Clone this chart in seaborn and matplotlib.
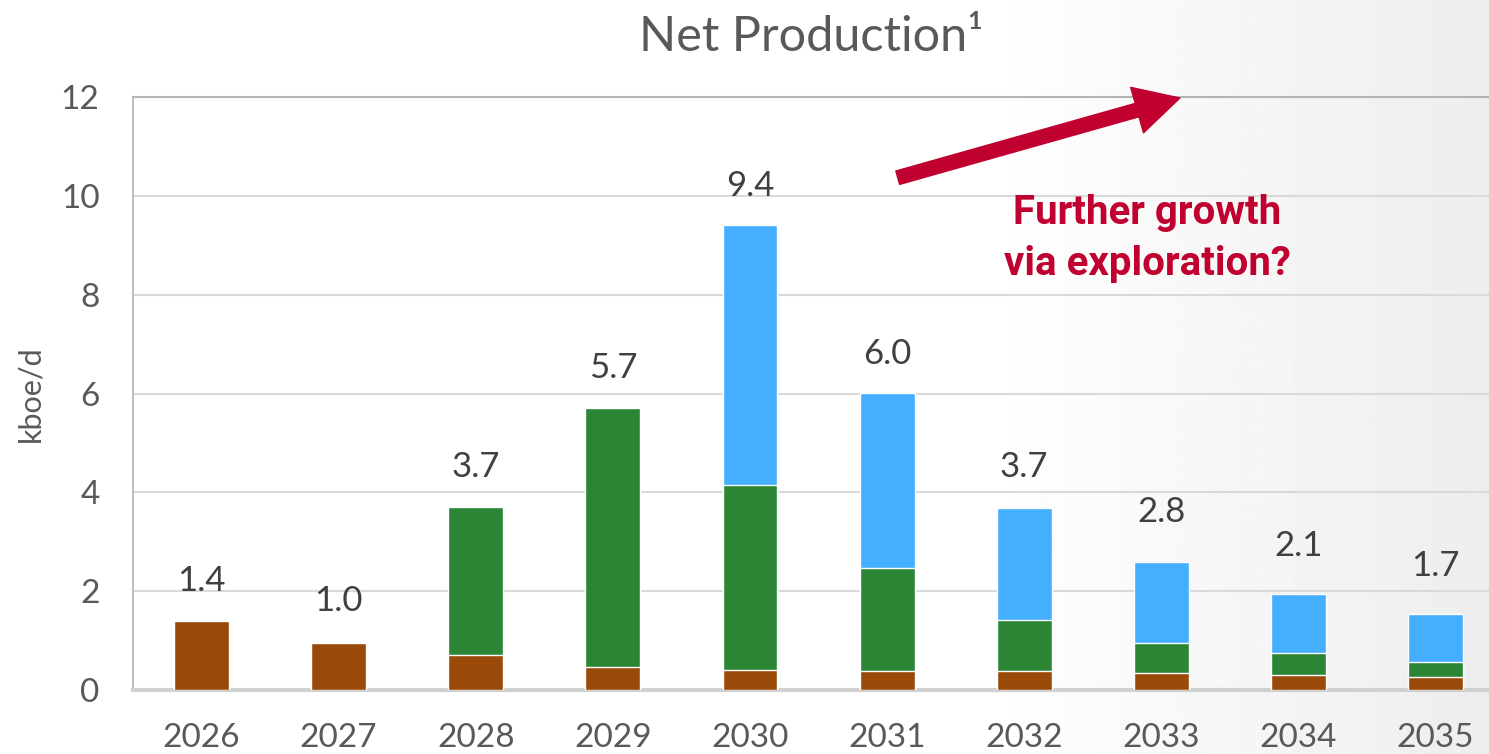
import numpy as np
import pandas as pd
import seaborn as sns
import matplotlib.pyplot as plt
from matplotlib.patches import FancyArrowPatch

# data (kboe/d)
years = ["2026", "2027", "2028", "2029", "2030", "2031", "2032", "2033", "2034", "2035"]
brown = [1.40, 0.95, 0.71, 0.47, 0.40, 0.38, 0.38, 0.34, 0.30, 0.26]
green = [0.00, 0.00, 2.99, 5.24, 3.75, 2.09, 1.04, 0.60, 0.44, 0.31]
blue = [0.00, 0.00, 0.00, 0.00, 5.26, 3.54, 2.26, 1.66, 1.20, 0.97]
labels = [1.4, 1.0, 3.7, 5.7, 9.4, 6.0, 3.7, 2.8, 2.1, 1.7]

df = pd.DataFrame({"year": years, "brown": brown, "green": green, "blue": blue})
df["lvl1"] = df["brown"]
df["lvl2"] = df["brown"] + df["green"]
df["lvl3"] = df["lvl2"] + df["blue"]

sns.set_style("white")
plt.rcParams["font.family"] = ["Lato", "DejaVu Sans"]

fig = plt.figure(figsize=(14.89, 7.54), dpi=100)

# light grey fade on the right side of the slide
bg = fig.add_axes([0, 0, 1, 1], zorder=-5)
cols = np.linspace(0, 1, 500)
shade = 1 - 0.07 * np.clip((cols - 0.66) / 0.34, 0, 1)
bg.imshow(shade[None, :], cmap="gray", vmin=0, vmax=1, aspect="auto", extent=[0, 1, 0, 1])
bg.axis("off")

ax = fig.add_axes([0.0893, 0.085, 0.9107, 0.786])
ax.patch.set_alpha(0)

# stacked bars: draw the cumulative totals from the top down
sns.barplot(data=df, x="year", y="lvl3", color="#44AEFF", width=0.4, saturation=1, ax=ax, zorder=2)
sns.barplot(data=df, x="year", y="lvl2", color="#2B8534", width=0.4, saturation=1, ax=ax, zorder=3)
sns.barplot(data=df, x="year", y="lvl1", color="#994A08", width=0.4, saturation=1, ax=ax, zorder=4)

for i, v in enumerate(labels):
    ax.annotate(f"{v:.1f}", (i, v), xytext=(0, 40), textcoords="offset pixels",
                ha="center", va="center", fontsize=25, color="#404040")

ax.set_ylim(0, 12)
ax.set_xlim(-0.5, 9.39)
ax.set_yticks(range(0, 13, 2))
ax.yaxis.grid(True, color="#D9D9D9", lw=1.5, zorder=0)
ax.set_axisbelow(True)
ax.tick_params(axis="x", labelsize=24, labelcolor="#595959", pad=24, length=0)
ax.tick_params(axis="y", labelsize=24, labelcolor="#595959", pad=24, length=0)
ax.set_xlabel("")
ax.set_ylabel("kboe/d", fontsize=22, color="#595959", labelpad=12)

ax.spines["right"].set_visible(False)
ax.spines["top"].set_color("#B4B4B4")
ax.spines["top"].set_linewidth(1.5)
ax.spines["left"].set_color("#BFBFBF")
ax.spines["left"].set_linewidth(1.5)
ax.spines["bottom"].set_color("#D0D0D0")
ax.spines["bottom"].set_linewidth(3)

fig.text(0.545, 0.951, "Net Production¹", ha="center", va="center", fontsize=35, color="#595959")

# exploration arrow and note
arrow = FancyArrowPatch((0.562, 0.863), (0.774, 1.0), transform=ax.transAxes,
                        arrowstyle="simple,head_length=3.2,head_width=3.4,tail_width=1.0",
                        mutation_scale=10, color="#C0002F", clip_on=False, zorder=6)
ax.add_patch(arrow)
ax.text(0.748, 0.762, "Further growth\nvia exploration?", transform=ax.transAxes,
        ha="center", va="center", fontsize=29, fontweight="bold", color="#C0002F",
        family=["Roboto", "DejaVu Sans"], linespacing=1.42)

fig.savefig("out.png", dpi=100)
